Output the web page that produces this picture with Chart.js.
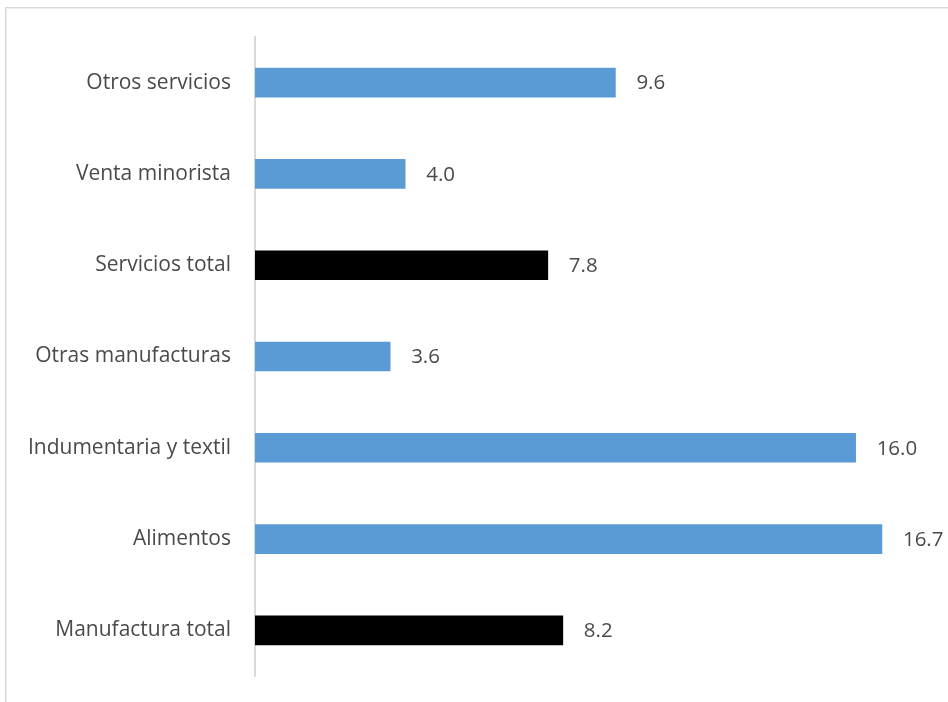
<!DOCTYPE html>
<html>
<head>
<meta charset="utf-8">
<script src="https://cdn.jsdelivr.net/npm/chart.js@4/dist/chart.umd.min.js"></script>
<style>
  html, body { margin: 0; padding: 0; background: #fff; overflow: hidden; }
  #wrap { position: relative; width: 948px; height: 702px; }
  #frame { position: absolute; left: 5px; top: 7px; width: 1000px; height: 800px;
           border-left: 1px solid #d9d9d9; border-top: 1px solid #d9d9d9;
           box-shadow: inset 1px 1px 0 #eeeeee; }
  canvas { position: absolute; left: 0; top: 0; }
</style>
</head>
<body>
<div id="wrap">
  <div id="frame"></div>
  <canvas id="c" width="948" height="702"></canvas>
</div>
<script>
// Sectors, listed from top to bottom as drawn
const categories = [
  "Otros servicios",
  "Venta minorista",
  "Servicios total",
  "Otras manufacturas",
  "Indumentaria y textil",
  "Alimentos",
  "Manufactura total"
];
const values = [9.6, 4.0, 7.8, 3.6, 16.0, 16.7, 8.2];
// Totals are highlighted in black, sub-sectors in blue
const isTotal = [false, false, true, false, false, false, true];

const BLUE = "#5b9bd5";
const BLACK = "#000000";
const TEXT = "#4a4a4a";
const FONT = "'Open Sans', 'Noto Sans', sans-serif";

// Writes each bar's value just past its end
const valueLabels = {
  id: "valueLabels",
  afterDatasetsDraw(chart) {
    const ctx = chart.ctx;
    const meta = chart.getDatasetMeta(0);
    ctx.save();
    ctx.font = "20.5px " + FONT;
    ctx.fillStyle = TEXT;
    ctx.textAlign = "left";
    ctx.textBaseline = "middle";
    meta.data.forEach((bar, i) => {
      ctx.fillText(values[i].toFixed(1), bar.x + 21, bar.y + 1);
    });
    ctx.restore();
  }
};

new Chart(document.getElementById("c"), {
  type: "bar",
  data: {
    labels: categories,
    datasets: [{
      data: values,
      backgroundColor: isTotal.map(t => t ? BLACK : BLUE),
      barThickness: 29,
      borderWidth: 0
    }]
  },
  options: {
    indexAxis: "y",
    responsive: false,
    animation: false,
    layout: { padding: { top: 37, bottom: 26, left: 0, right: 0 } },
    plugins: {
      legend: { display: false },
      tooltip: { enabled: false }
    },
    scales: {
      x: {
        display: false,
        min: 0,
        max: 18.46
      },
      y: {
        afterFit(scale) {
          scale.width = 255;
          scale.paddingTop = 0;
          scale.paddingBottom = 0;
        },
        grid: { display: false },
        border: { display: true, color: "#d9d9d9", width: 2 },
        ticks: {
          padding: 16,
          color: TEXT,
          font: { family: FONT, size: 21 }
        }
      }
    }
  },
  plugins: [valueLabels]
});
</script>
</body>
</html>
